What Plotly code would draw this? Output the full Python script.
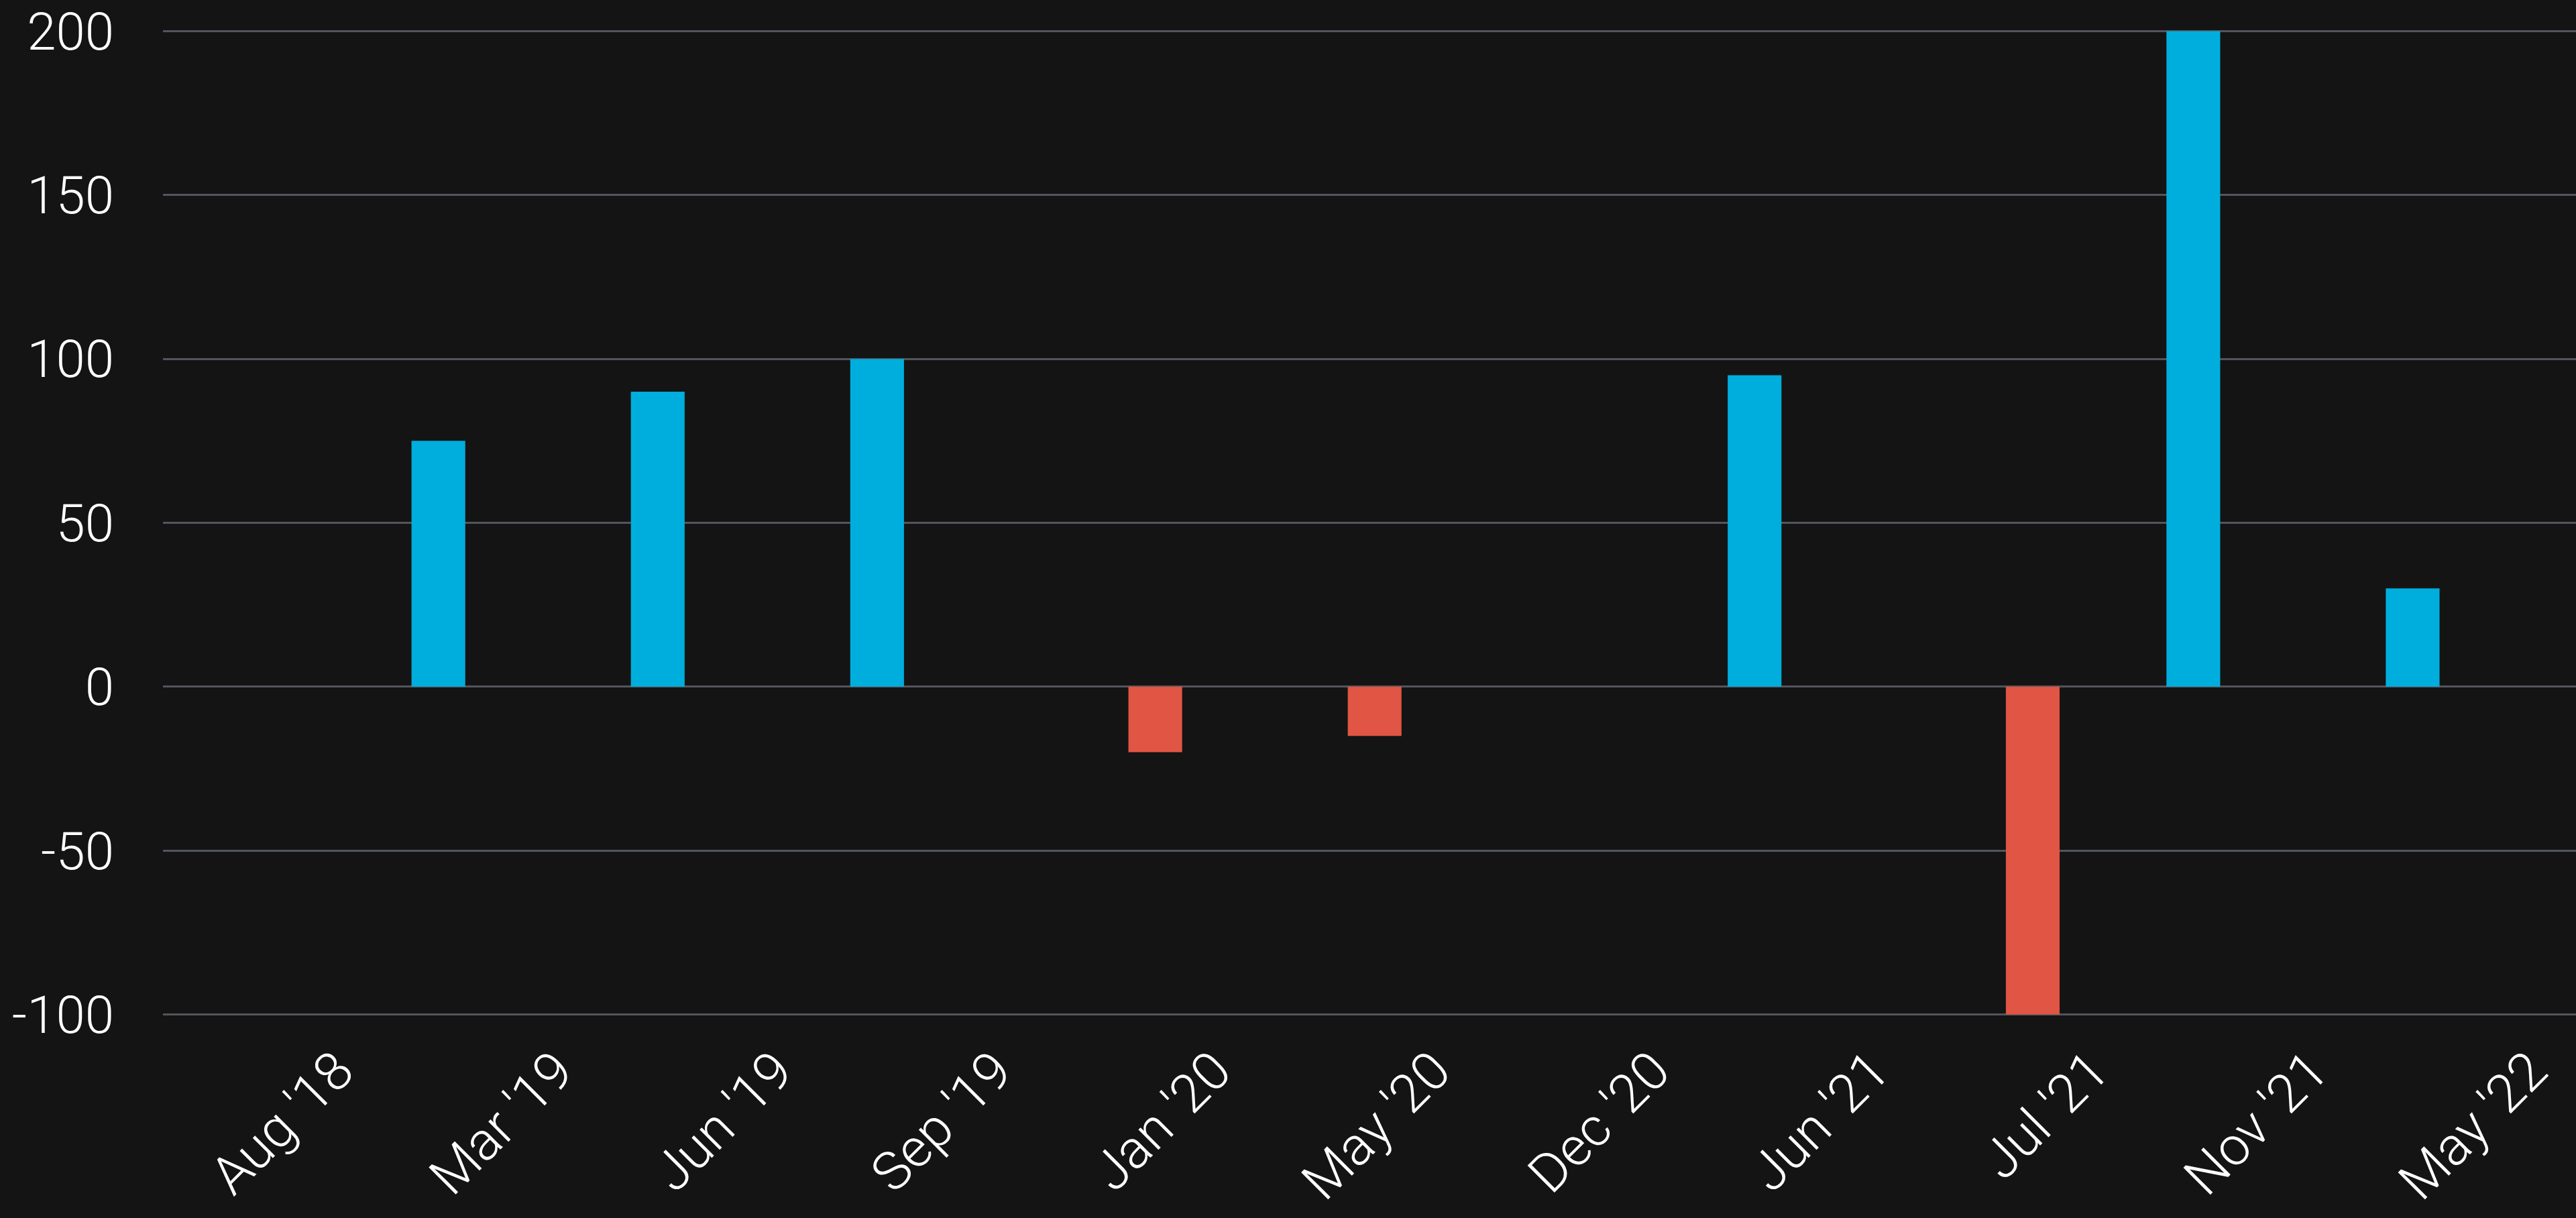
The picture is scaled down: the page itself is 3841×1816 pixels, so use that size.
import plotly.graph_objects as go

categories = ["Aug '18", "Mar '19", "Jun '19", "Sep '19", "Jan '20", "May '20",
              "Dec '20", "Jun '21", "Jul '21", "Nov '21", "May '22"]
positive = [None, 75, 90, 100, None, None, None, 95, None, 200, 30]
negative = [None, None, None, None, -20, -15, None, None, -100, None, None]
y_ticks = [-100, -50, 0, 50, 100, 150, 200]
y_tick_text = ["-100", "-50", "0", "50", "100", "150", "200"]

BG = "#141414"
BLUE = "#00AEDD"
RED = "#E05543"
GRID = "#52555d"
FONT = "Roboto"

fig = go.Figure()
fig.add_trace(go.Bar(x=categories, y=positive, marker=dict(color=BLUE, line=dict(width=0)),
                     width=0.245, offset=-0.367, showlegend=False))
fig.add_trace(go.Bar(x=categories, y=negative, marker=dict(color=RED, line=dict(width=0)),
                     width=0.245, offset=-0.099, showlegend=False))

fig.update_layout(
    width=3841, height=1816,
    margin=dict(l=243, r=0, t=45, b=302, pad=0),
    paper_bgcolor=BG, plot_bgcolor=BG,
    barmode="overlay",
    font=dict(family=FONT, color="#ffffff", size=78, weight=300),
    xaxis=dict(type="category", categoryorder="array", categoryarray=categories,
               range=[-0.5, 10.5], showgrid=False, zeroline=False, showline=False,
               automargin=False,
               ticks="", tickangle=-45, ticklabelshift=97, ticklabelstandoff=18,
               ticklabeloverflow="allow",
               tickfont=dict(size=80, family=FONT, color="#ffffff", weight=300)),
    yaxis=dict(range=[-100.3, 200.3], tickvals=y_ticks, ticktext=y_tick_text,
               showgrid=True, gridcolor=GRID, gridwidth=3, automargin=False,
               zeroline=True, zerolinecolor=GRID, zerolinewidth=3, showline=False, ticks="",
               ticklabelstandoff=72, ticklabeloverflow="allow",
               tickfont=dict(size=78, family=FONT, color="#ffffff", weight=300)),
)

fig.write_html("out.html", config={"displayModeBar": False},
               post_script="document.body.style.margin='0';document.body.style.overflow='hidden';")
